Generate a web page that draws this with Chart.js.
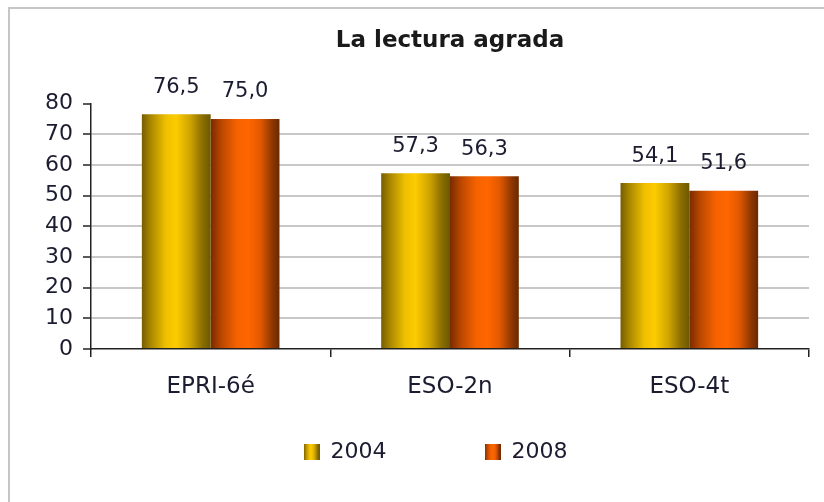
<!DOCTYPE html>
<html>
<head>
<meta charset="utf-8">
<script src="https://cdn.jsdelivr.net/npm/chart.js@4/dist/chart.umd.min.js"></script>
<style>
  body { margin: 0; background: #fff; overflow: hidden; }
  #frame { position: absolute; left: 8px; top: 7px; width: 1000px; height: 1000px; border: 2px solid #c6c6c6; }
  #lecturaChart { position: absolute; left: 0; top: 0; }
</style>
</head>
<body>
<div id="frame"></div>
<canvas id="lecturaChart" width="824" height="502"></canvas>
<script>
const categories = ["EPRI-6é", "ESO-2n", "ESO-4t"];
const years = ["2004", "2008"];
const values2004 = [76.5, 57.3, 54.1];
const values2008 = [75.0, 56.3, 51.6];
const yMax = 80;
const yStep = 10;

const TEXT = "#1c1c30";
const CAT_PCT = 0.575;

const goldStops = [[0, "#785c00"], [0.12, "#a68500"], [0.35, "#f0c000"], [0.5, "#fccb00"], [0.7, "#cfa400"], [0.88, "#8a6e00"], [1, "#6c5800"]];
const orangeStops = [[0, "#782a00"], [0.15, "#b84600"], [0.38, "#f56200"], [0.55, "#ff6600"], [0.72, "#e35900"], [0.9, "#8c3600"], [1, "#6a2800"]];

function fillStops(g, stops) {
  stops.forEach(function (s) { g.addColorStop(s[0], s[1]); });
  return g;
}

// horizontal shading across each bar, bar edges taken from the x scale
function barShade(stops) {
  return function (c) {
    const x = c.chart.scales.x;
    if (c.type !== "data" || !x) return stops[3][1];
    const w = (x.right - x.left) / categories.length * CAT_PCT / 2;
    const left = x.getPixelForValue(c.dataIndex) - w + c.datasetIndex * w;
    return fillStops(c.chart.ctx.createLinearGradient(left, 0, left + w, 0), stops);
  };
}

function legendIcon(stops) {
  const cv = document.createElement("canvas");
  cv.width = 16;
  cv.height = 16;
  const g = cv.getContext("2d");
  g.fillStyle = fillStops(g.createLinearGradient(0, 0, 16, 0), stops);
  g.fillRect(0, 0, 16, 16);
  return cv;
}
const legendIcons = [legendIcon(goldStops), legendIcon(orangeStops)];
// extra room after each legend text, the Excel legend is widely spaced
const legendGap = ["\u2002".repeat(8), "\u2002\u2002 "];

const valueLabels = {
  id: "valueLabels",
  afterDatasetsDraw(chart) {
    const ctx = chart.ctx;
    ctx.save();
    ctx.font = '21px "DejaVu Sans"';
    ctx.fillStyle = TEXT;
    ctx.textAlign = "center";
    ctx.textBaseline = "middle";
    chart.data.datasets.forEach(function (ds, i) {
      chart.getDatasetMeta(i).data.forEach(function (bar, j) {
        ctx.fillText(ds.data[j].toFixed(1).replace(".", ","), bar.x, bar.y - 27);
      });
    });
    ctx.restore();
  },
};

const ctx = document.querySelector("#lecturaChart").getContext("2d");
const myChart = new Chart(ctx, {
  type: "bar",
  data: {
    labels: categories,
    datasets: [
      { label: years[0], data: values2004, backgroundColor: barShade(goldStops), borderWidth: 0 },
      { label: years[1], data: values2008, backgroundColor: barShade(orangeStops), borderWidth: 0 },
    ],
  },
  plugins: [valueLabels],
  options: {
    responsive: false,
    animation: false,
    categoryPercentage: CAT_PCT,
    barPercentage: 1,
    layout: { padding: { left: 0, right: 15, top: 0, bottom: 29 } },
    plugins: {
      title: {
        display: true,
        text: "La lectura agrada",
        fullSize: false,
        color: "#1a1a1a",
        font: { family: "DejaVu Sans", size: 23, weight: "bold" },
        padding: { top: 27, bottom: 49 },
      },
      legend: {
        position: "bottom",
        fullSize: false,
        labels: {
          usePointStyle: true,
          boxWidth: 16,
          boxHeight: 16,
          padding: 10,
          color: TEXT,
          font: { family: "DejaVu Sans", size: 22 },
          generateLabels: function (chart) {
            return chart.data.datasets.map(function (ds, i) {
              return {
                text: ds.label + legendGap[i],
                pointStyle: legendIcons[i],
                fillStyle: "transparent",
                strokeStyle: "transparent",
                lineWidth: 0,
                hidden: false,
                datasetIndex: i,
                fontColor: TEXT,
              };
            });
          },
        },
      },
      tooltip: { enabled: false },
    },
    scales: {
      x: {
        afterFit: function (scale) { scale.height = 82; },
        border: { color: "#222", width: 1.5 },
        grid: { drawOnChartArea: false, offset: true, color: "#222", lineWidth: 1.5, tickLength: 8 },
        ticks: { color: TEXT, padding: 16, font: { family: "DejaVu Sans", size: 23 } },
      },
      y: {
        min: 0,
        max: yMax,
        afterFit: function (scale) { scale.width = 91; },
        border: { color: "#222", width: 1.5 },
        grid: {
          color: function (c) {
            return c.tick.value === 0 || c.tick.value === yMax ? "rgba(0,0,0,0)" : "#c8c8c8";
          },
          lineWidth: 2,
          tickColor: "#222",
          tickWidth: 1.5,
          tickLength: 8,
        },
        ticks: { stepSize: yStep, color: TEXT, padding: 10, font: { family: "DejaVu Sans", size: 22 } },
      },
    },
  },
});
</script>
</body>
</html>
